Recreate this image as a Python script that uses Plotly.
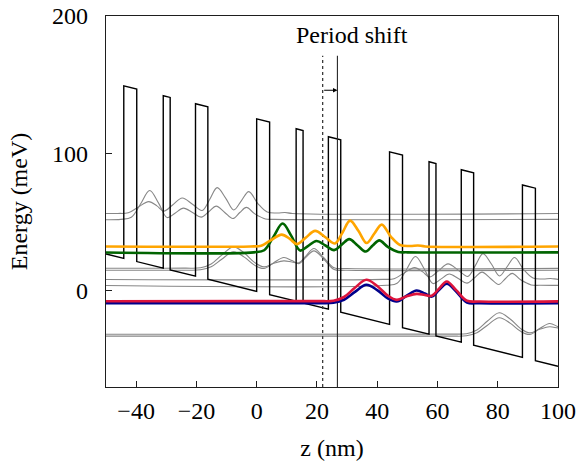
import plotly.graph_objects as go

# ---- conduction band profile (z in nm, E in meV) ----
band_z = [-50, -44.1, -44.1, -39.8, -39.8, -31.0, -31.0, -28.7, -28.7, -20.3, -20.3, -16.2, -16.2,
          0, 0, 4.3, 4.3, 13.1, 13.1, 15.4, 15.4, 23.8, 23.8, 27.9, 27.9,
          44.1, 44.1, 48.4, 48.4, 57.2, 57.2, 59.5, 59.5, 67.9, 67.9, 72.0, 72.0,
          88.2, 88.2, 92.5, 92.5, 100]
band_E = [26.85, 23.63, 149.13, 146.79, 21.29, 16.50, 142.00, 140.74, 15.24, 10.66, 136.16, 133.93, 8.43,
          -0.4, 125.1, 122.76, -2.74, -7.54, 117.96, 116.71, -8.79, -13.37, 112.13, 109.89, -15.61,
          -24.43, 101.07, 98.72, -26.78, -31.57, 93.93, 92.67, -32.83, -37.41, 88.09, 85.86, -39.64,
          -48.47, 77.03, 74.69, -50.81, -54.9]

# ---- wavefunctions (|psi|^2 offset by level energy) of the central period ----
orange_base = 32.3
orange_z = [-2, 1.5, 4.5, 8.3, 11.0, 13.3, 16.2, 19.4, 22.8, 26.0, 28.5, 31.0, 33.8, 36.5,
            39.0, 41.5, 44.5, 47.6, 51, 53.5, 56]
orange_E = [32.3, 32.8, 36.5, 40.9, 37.8, 34.0, 38.5, 43.6, 39.0, 34.5, 42.5, 51.1, 43.5, 34.8,
            41.5, 48.2, 39.5, 33.3, 32.6, 33.0, 32.3]

green_base = 28.0
green_z = [-1, 2.5, 5.5, 8.6, 11.5, 14.4, 17, 19.8, 22.8, 25.7, 28.2, 30.7, 33.5, 36.2,
           38.5, 40.7, 43.5, 47, 50]
green_E = [28.0, 29.5, 39.0, 49.0, 40.0, 29.3, 32.5, 36.2, 33.0, 29.6, 33.5, 37.6, 33.0, 28.6,
           33.0, 36.7, 32.0, 28.3, 28.0]

red_base = -7.6
red_z = [20, 25.5, 29, 32.5, 36.4, 40, 43.5, 46.5, 49.8, 53.1, 55.8, 58.1, 60.5, 63.1, 66.2, 69.8, 74]
red_E = [-7.5, -7.2, -4.5, 2.0, 8.0, 3.5, -3.5, -6.6, -4.0, -2.2, -3.0, -3.6, 1.5, 6.8, 0.5, -7.2, -7.8]

blue_base = -9.0
blue_z = red_z
blue_E = [-9.0, -8.7, -6.5, -1.0, 4.4, 0.5, -5.5, -7.8, -3.5, 0.2, -2.0, -4.2, 0.5, 5.1, -0.5, -8.5, -9.0]

# one period of the structure: length (nm) and potential drop (meV)
period_len = 44.1
period_drop = 24.0

# period-shift marker
shift_from_z = 21.9
shift_to_z = 26.8
shift_top_E = 171
shift_arrow_E = 146

x_range = [-50, 100]
y_range = [-70, 200]
x_ticks = [-40, -20, 0, 20, 40, 60, 80, 100]
y_ticks = [0, 100, 200]

FONT = "Liberation Serif, Times New Roman, serif"
FS = 24

fig = go.Figure()

states = [
    (blue_z, blue_E, blue_base, "darkblue"),
    (red_z, red_E, red_base, "crimson"),
    (green_z, green_E, green_base, "darkgreen"),
    (orange_z, orange_E, orange_base, "orange"),
]


def full_curve(zs, es, base, n):
    dz = n * period_len
    de = -n * period_drop
    xs = [x_range[0] - 5] + [z + dz for z in zs] + [x_range[1] + 5]
    ys = [base + de] + [e + de for e in es] + [base + de]
    return xs, ys


# grey copies in neighbouring periods
for n in (-1, 1):
    for zs, es, base, _ in states:
        xs, ys = full_curve(zs, es, base, n)
        fig.add_trace(go.Scatter(x=xs, y=ys, mode="lines",
                                 line=dict(color="rgb(135,135,135)", width=1.1, shape="spline", smoothing=1.0),
                                 hoverinfo="skip", showlegend=False))

# band profile
fig.add_trace(go.Scatter(x=band_z, y=band_E, mode="lines",
                         line=dict(color="black", width=1.4), hoverinfo="skip", showlegend=False))

# period shift lines
fig.add_trace(go.Scatter(x=[shift_from_z, shift_from_z], y=[y_range[0], shift_top_E], mode="lines",
                         line=dict(color="rgb(60,60,60)", width=1.3, dash="dot"),
                         hoverinfo="skip", showlegend=False))
fig.add_trace(go.Scatter(x=[shift_to_z, shift_to_z], y=[y_range[0], shift_top_E], mode="lines",
                         line=dict(color="rgb(40,40,40)", width=1.1),
                         hoverinfo="skip", showlegend=False))

# central period coloured states
for zs, es, base, col in states:
    xs, ys = full_curve(zs, es, base, 0)
    fig.add_trace(go.Scatter(x=xs, y=ys, mode="lines",
                             line=dict(color=col, width=2.6, shape="spline", smoothing=1.0),
                             hoverinfo="skip", showlegend=False))

fig.add_annotation(x=shift_to_z, y=shift_arrow_E, ax=shift_from_z, ay=shift_arrow_E,
                   xref="x", yref="y", axref="x", ayref="y", text="",
                   showarrow=True, arrowhead=2, arrowsize=0.8, arrowwidth=1.1, arrowcolor="black")
fig.add_annotation(x=31.7, y=186, xref="x", yref="y", text="Period shift", showarrow=False,
                   font=dict(family=FONT, size=FS, color="black"))

axis_common = dict(showgrid=False, zeroline=False, showline=True, linecolor="rgb(30,30,30)",
                   linewidth=1.3, mirror=True, ticks="inside", ticklen=6, tickwidth=1,
                   tickcolor="rgb(30,30,30)", tickfont=dict(family=FONT, size=FS, color="black"),
                   automargin=False)

fig.update_xaxes(range=x_range, tickvals=x_ticks, **axis_common,
                 title=dict(text="z (nm)", font=dict(family=FONT, size=FS, color="black"), standoff=16),
                 ticklabelstandoff=2)
fig.update_yaxes(range=y_range, tickvals=y_ticks, **axis_common,
                 title=dict(text="Energy (meV)", font=dict(family=FONT, size=FS, color="black"), standoff=17),
                 ticklabelstandoff=12)

fig.update_layout(width=588, height=463, margin=dict(l=106, r=30, t=16, b=76),
                  plot_bgcolor="white", paper_bgcolor="white", showlegend=False)

fig.write_html("out.html")
